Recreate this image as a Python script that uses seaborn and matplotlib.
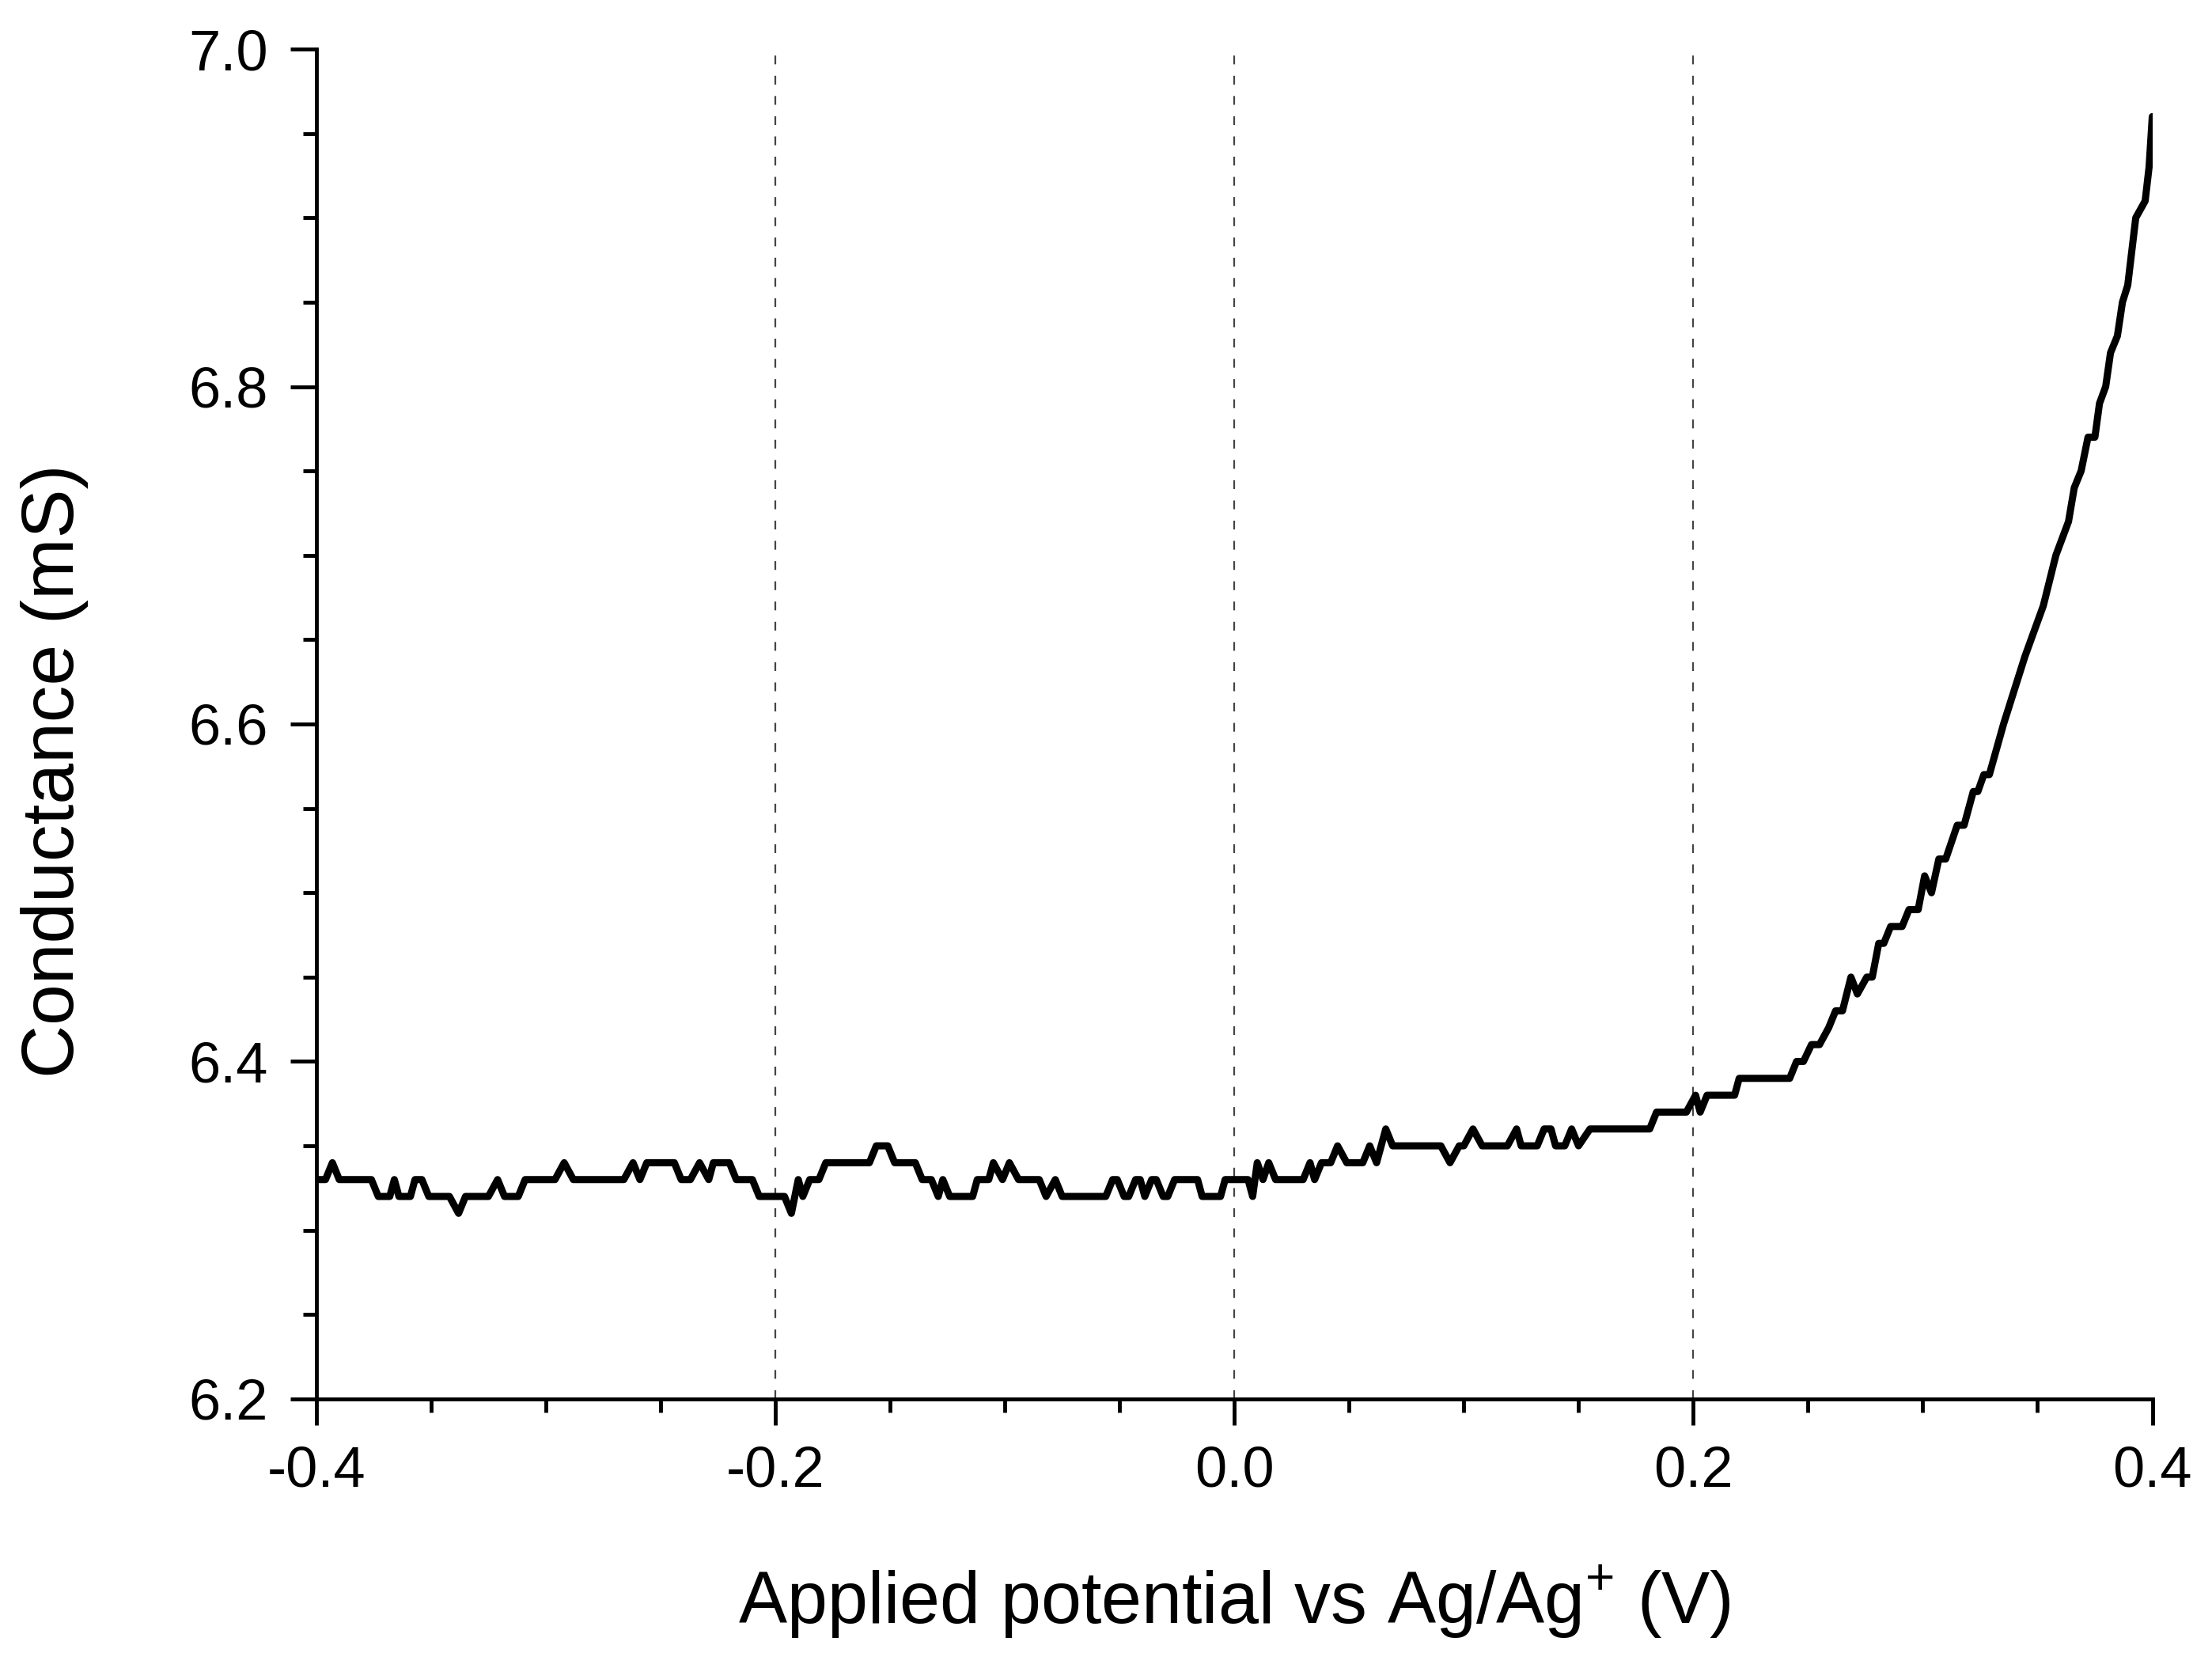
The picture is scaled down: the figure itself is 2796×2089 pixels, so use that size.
import numpy as np
import pandas as pd
import matplotlib
matplotlib.use("Agg")
import matplotlib.pyplot as plt
from matplotlib.ticker import MultipleLocator, FormatStrFormatter
import seaborn as sns

# potential (V) and conductance (mS)
potential = [
    -0.400, -0.396, -0.393, -0.390, -0.376, -0.373, -0.368, -0.366, -0.364, -0.359,
    -0.357, -0.354, -0.351, -0.342, -0.338, -0.335, -0.325, -0.321, -0.318, -0.312,
    -0.309, -0.296, -0.292, -0.288, -0.266, -0.262, -0.259, -0.256, -0.244, -0.241,
    -0.237, -0.233, -0.229, -0.227, -0.220, -0.217, -0.210, -0.207, -0.196, -0.193,
    -0.190, -0.188, -0.185, -0.181, -0.178, -0.159, -0.156, -0.151, -0.148, -0.139,
    -0.136, -0.132, -0.129, -0.127, -0.124, -0.114, -0.112, -0.107, -0.105, -0.101,
    -0.098, -0.094, -0.085, -0.082, -0.078, -0.075, -0.056, -0.053, -0.051, -0.048,
    -0.046, -0.043, -0.041, -0.039, -0.036, -0.034, -0.031, -0.029, -0.026, -0.016,
    -0.014, -0.006, -0.004, 0.006, 0.008, 0.010, 0.0125, 0.015, 0.018, 0.030,
    0.033, 0.035, 0.038, 0.042, 0.045, 0.049, 0.056, 0.059, 0.062, 0.066,
    0.069, 0.090, 0.094, 0.098, 0.100, 0.104, 0.108, 0.119, 0.123, 0.125,
    0.132, 0.135, 0.138, 0.140, 0.144, 0.147, 0.150, 0.155, 0.181, 0.184,
    0.197, 0.201, 0.203, 0.206, 0.218, 0.220, 0.242, 0.245, 0.248, 0.2515,
    0.255, 0.259, 0.262, 0.265, 0.2687, 0.2715, 0.2756, 0.278, 0.2808, 0.283,
    0.286, 0.291, 0.294, 0.298, 0.3008, 0.3038, 0.307, 0.310, 0.315, 0.318,
    0.322, 0.324, 0.3266, 0.329, 0.3352, 0.3445, 0.3525, 0.358, 0.3635, 0.366,
    0.369, 0.372, 0.375, 0.377, 0.3797, 0.3818, 0.3848, 0.387, 0.3893, 0.3928,
    0.3969, 0.3986, 0.400,
]
conductance = [
    6.33, 6.33, 6.34, 6.33, 6.33, 6.32, 6.32, 6.33, 6.32, 6.32,
    6.33, 6.33, 6.32, 6.32, 6.31, 6.32, 6.32, 6.33, 6.32, 6.32,
    6.33, 6.33, 6.34, 6.33, 6.33, 6.34, 6.33, 6.34, 6.34, 6.33,
    6.33, 6.34, 6.33, 6.34, 6.34, 6.33, 6.33, 6.32, 6.32, 6.31,
    6.33, 6.32, 6.33, 6.33, 6.34, 6.34, 6.35, 6.35, 6.34, 6.34,
    6.33, 6.33, 6.32, 6.33, 6.32, 6.32, 6.33, 6.33, 6.34, 6.33,
    6.34, 6.33, 6.33, 6.32, 6.33, 6.32, 6.32, 6.33, 6.33, 6.32,
    6.32, 6.33, 6.33, 6.32, 6.33, 6.33, 6.32, 6.32, 6.33, 6.33,
    6.32, 6.32, 6.33, 6.33, 6.32, 6.34, 6.33, 6.34, 6.33, 6.33,
    6.34, 6.33, 6.34, 6.34, 6.35, 6.34, 6.34, 6.35, 6.34, 6.36,
    6.35, 6.35, 6.34, 6.35, 6.35, 6.36, 6.35, 6.35, 6.36, 6.35,
    6.35, 6.36, 6.36, 6.35, 6.35, 6.36, 6.35, 6.36, 6.36, 6.37,
    6.37, 6.38, 6.37, 6.38, 6.38, 6.39, 6.39, 6.40, 6.40, 6.41,
    6.41, 6.42, 6.43, 6.43, 6.45, 6.44, 6.45, 6.45, 6.47, 6.47,
    6.48, 6.48, 6.49, 6.49, 6.51, 6.50, 6.52, 6.52, 6.54, 6.54,
    6.56, 6.56, 6.57, 6.57, 6.60, 6.64, 6.67, 6.70, 6.72, 6.74,
    6.75, 6.77, 6.77, 6.79, 6.80, 6.82, 6.83, 6.85, 6.86, 6.90,
    6.91, 6.93, 6.96,
]
guide_lines = [-0.2, 0.0, 0.2]

df = pd.DataFrame({"potential": potential, "conductance": conductance})

sns.set_theme(style="ticks")
plt.rcParams["font.family"] = ["Liberation Sans", "DejaVu Sans"]
plt.rcParams["mathtext.fontset"] = "custom"
plt.rcParams["mathtext.rm"] = "Liberation Sans"
plt.rcParams["text.color"] = "black"
plt.rcParams["axes.labelcolor"] = "black"

fig = plt.figure(figsize=(27.96, 20.89), dpi=100)
ax = fig.add_axes([0.143, 0.1537, 0.830, 0.8166])

for xv in guide_lines:
    ax.axvline(xv, color="#444444", lw=1.6, linestyle=(0, (5, 6.5)), zorder=1)

sns.lineplot(data=df, x="potential", y="conductance", sort=False, estimator=None,
             color="black", lw=6.5, ax=ax, zorder=3)

ax.set_xlim(-0.4, 0.4)
ax.set_ylim(6.2, 7.0)
ax.xaxis.set_major_locator(MultipleLocator(0.2))
ax.xaxis.set_minor_locator(MultipleLocator(0.05))
ax.yaxis.set_major_locator(MultipleLocator(0.2))
ax.yaxis.set_minor_locator(MultipleLocator(0.05))
ax.xaxis.set_major_formatter(FormatStrFormatter("%.1f"))
ax.yaxis.set_major_formatter(FormatStrFormatter("%.1f"))

sns.despine(ax=ax)
for s in ["left", "bottom"]:
    ax.spines[s].set_linewidth(3.5)
    ax.spines[s].set_color("black")

ax.tick_params(which="major", direction="out", length=24, width=3.5,
               labelsize=52, colors="black", labelcolor="black")
ax.tick_params(which="minor", direction="out", length=12, width=3.5, colors="black")
ax.tick_params(axis="x", which="major", pad=18)
ax.tick_params(axis="y", which="major", pad=20)

ax.set_xlabel(r"Applied potential vs Ag/Ag$^{+}$ (V)", fontsize=66, color="black")
ax.set_ylabel("Conductance (mS)", fontsize=67, color="black")
ax.xaxis.set_label_coords(0.5, -0.122)
ax.yaxis.set_label_coords(-0.124, 0.465)

fig.savefig("out.png", dpi=100, facecolor="white")
